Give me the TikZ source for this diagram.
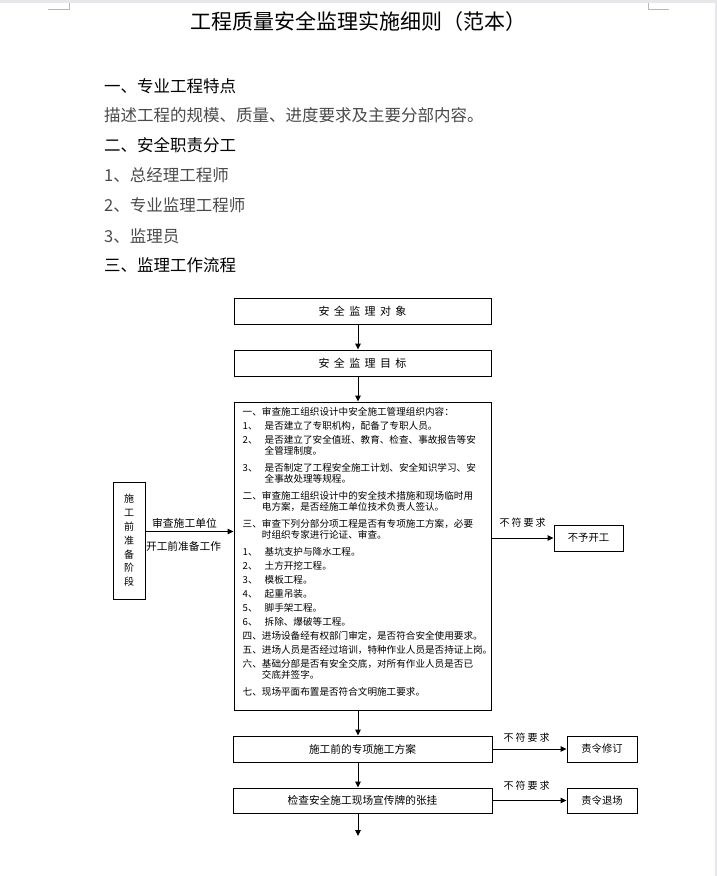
\documentclass[tikz,border=0pt]{standalone}
\usepackage{fontspec}
\setmainfont{Noto Sans CJK SC}
\usetikzlibrary{arrows.meta, positioning, calc}
\definecolor{pagegray}{HTML}{E6E7EA}
\definecolor{markgray}{HTML}{B8B8B8}
\definecolor{bodytxt}{HTML}{4A4A4A}
\newcommand{\widespaced}{\addfontfeatures{LetterSpace=40}}
\newcommand{\numcol}[1]{\makebox[22pt][l]{#1}}

\begin{document}
\begin{tikzpicture}[x=1pt, y=-1pt,
  box/.style={draw, line width=1pt, minimum width=257pt, minimum height=26pt,
              inner sep=0pt, font=\fontsize{10.7}{13}\selectfont},
  sidebox/.style={draw, line width=1pt, minimum width=69pt, minimum height=26pt,
                  inner sep=0pt, font=\fontsize{10.3}{13}\selectfont},
  flow/.style={-{Triangle[length=6pt, width=5.5pt]}, line width=1pt},
  fail/.style={inner sep=0pt, font=\fontsize{10}{12}\selectfont\addfontfeatures{LetterSpace=20}},
  heading/.style={anchor=west, inner sep=0pt, font=\fontsize{16.5}{20}\selectfont},
  plain/.style={heading, text=bodytxt}]

% Page
\fill[white] (0,0) rectangle (717,876);
\useasboundingbox (0,0) rectangle (717,876);
\fill[pagegray] (0,0) rectangle (717,3);
\fill[pagegray] (715,0) rectangle (717,876);
\draw[markgray, line width=0.8pt] (48,9) -- (69,9) -- (69,3);
\draw[markgray, line width=0.8pt] (648,3) -- (648,9) -- (669,9);

% Title
\node (title) [font=\fontsize{21}{24}\selectfont] at (358,22) {工程质量安全监理实施细则（范本）};

% =========== Text part ===========
\node (sec1) [heading] at (104,86) {一、专业工程特点};
\node (desc) [plain] at (104,115) {描述工程的规模、质量、进度要求及主要分部内容。};
\node (sec2) [heading] at (104,145) {二、安全职责分工};
\node (duty1) [plain] at (104,175) {1、总经理工程师};
\node (duty2) [plain] at (104,205) {2、专业监理工程师};
\node (duty3) [plain] at (104,236) {3、监理员};
\node (sec3) [heading] at (104,265) {三、监理工作流程};

% =========== Flow chart ===========
\node (obj) [box, font=\fontsize{11}{13}\selectfont\widespaced] at (362.5,311) {安全监理对象};
\node (goal) [box, font=\fontsize{11}{13}\selectfont\widespaced] at (362.5,363) {安全监理目标};
\node (review) [box, minimum height=308pt] at (362.5,556) {};
\node (reviewtext) [anchor=north west, align=left, inner sep=0pt,
      font=\fontsize{9.6}{14}\selectfont]
  at ([xshift=9pt, yshift=-6pt]review.north west) {%
  一、审查施工组织设计中安全施工管理组织内容：\\
  \numcol{1、}是否建立了专职机构，配备了专职人员。\\
  \numcol{2、}是否建立了安全值班、教育、检查、事故报告等安\\[-3pt]
  \hspace*{22pt}全管理制度。\\[3pt]
  \numcol{3、}是否制定了工程安全施工计划、安全知识学习、安\\[-3pt]
  \hspace*{22pt}全事故处理等规程。\\[3pt]
  二、审查施工组织设计中的安全技术措施和现场临时用\\[-3pt]
  \hspace*{19.2pt}电方案，是否经施工单位技术负责人签认。\\[3pt]
  三、审查下列分部分项工程是否有专项施工方案，必要\\[-3pt]
  \hspace*{19.2pt}时组织专家进行论证、审查。\\[3pt]
  \numcol{1、}基坑支护与降水工程。\\
  \numcol{2、}土方开挖工程。\\
  \numcol{3、}模板工程。\\
  \numcol{4、}起重吊装。\\
  \numcol{5、}脚手架工程。\\
  \numcol{6、}拆除、爆破等工程。\\
  四、进场设备经有权部门审定，是否符合安全使用要求。\\
  五、进场人员是否经过培训，特种作业人员是否持证上岗。\\
  六、基础分部是否有安全交底，对所有作业人员是否已\\[-3pt]
  \hspace*{19.2pt}交底并签字。\\[3pt]
  七、现场平面布置是否符合文明施工要求。};

\node (prep) [draw, line width=1pt, minimum width=32pt, minimum height=117pt,
      inner sep=0pt, align=center, font=\fontsize{10}{13.8}\selectfont]
  at (129,540.5) {施\\工\\前\\准\\备\\阶\\段};

\node (nostart) [sidebox] at (588.5,538) {不予开工};
\node (plan) [box, minimum width=259pt] at (362.5,749) {施工前的专项施工方案};
\node (revise) [sidebox, minimum width=70pt] at (602,749) {责令修订};
\node (check) [box, minimum width=259pt, minimum height=25pt] at (362.5,800.5) {检查安全施工现场宣传牌的张挂};
\node (leave) [sidebox, minimum width=70pt, minimum height=25pt] at (602,800.5) {责令退场};
\coordinate (next) at (358,836);

% Main line
\draw[flow] ([xshift=-4.5pt]obj.south) -- ([xshift=-4.5pt]goal.north);
\draw[flow] ([xshift=-4.5pt]goal.south) -- ([xshift=-4.5pt]review.north);
\draw[flow] ([xshift=-4.5pt]review.south) -- ([xshift=-4.5pt]plan.north);
\draw[flow] ([xshift=-4.5pt]plan.south) -- ([xshift=-4.5pt]check.north);
\draw[flow] ([xshift=-4.5pt]check.south) -- (next);

% Side arrows
\draw[flow] ([yshift=9pt]prep.east) -- ([yshift=9pt]prep.east -| review.west)
  node[midway, above=3pt, xshift=-5pt, inner sep=0pt, font=\fontsize{10.8}{12}\selectfont] {审查施工单位}
  node[midway, below=9pt, xshift=-6pt, inner sep=0pt, font=\fontsize{10.7}{12}\selectfont] {开工前准备工作};
\draw[flow] (review.east |- nostart.west) -- (nostart.west)
  node[midway, above=10pt, fail] {不符要求};
\draw[flow] (plan.east) -- (revise.west)
  node[midway, above=6pt, xshift=-3pt, fail] {不符要求};
\draw[flow] (check.east) -- (leave.west)
  node[midway, above=10pt, xshift=-3pt, fail] {不符要求};

\end{tikzpicture}
\end{document}
